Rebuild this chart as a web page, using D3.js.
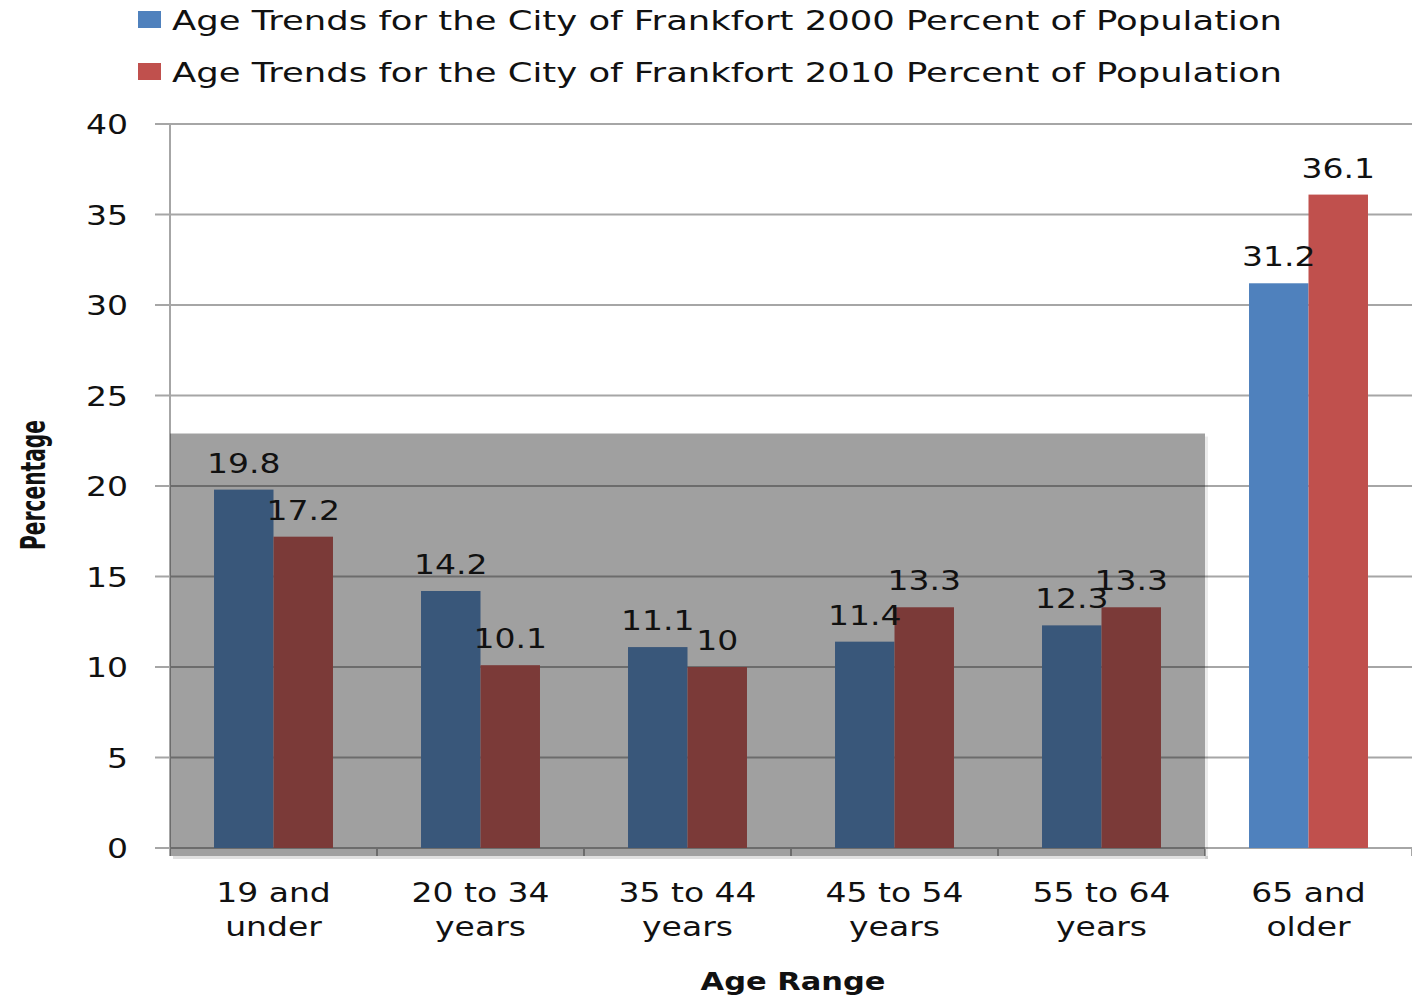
<!DOCTYPE html>
<html>
<head>
<meta charset="utf-8">
<script src="https://cdn.jsdelivr.net/npm/d3@7"></script>
<style>
  body { margin: 0; background: #fff; }
  text { font-family: "DejaVu Sans", Verdana, sans-serif; fill: #111; }
</style>
</head>
<body>
<div id="vis"></div>
<script>
// chart size
const FRAME_WIDTH = 1412;
const FRAME_HEIGHT = 998;
const MARGINS = {left: 170, right: 0, top: 124, bottom: 150};
const STRETCH = 1.27;   // text in the picture is drawn wide

// data
const categories = [["19 and", "under"], ["20 to 34", "years"], ["35 to 44", "years"],
                    ["45 to 54", "years"], ["55 to 64", "years"], ["65 and", "older"]];
const seriesNames = ["Age Trends for the City of Frankfort 2000 Percent of Population",
                     "Age Trends for the City of Frankfort 2010 Percent of Population"];
const values2000 = [19.8, 14.2, 11.1, 11.4, 12.3, 31.2];
const values2010 = [17.2, 10.1, 10, 13.3, 13.3, 36.1];
const yTicks = [0, 5, 10, 15, 20, 25, 30, 35, 40];
const colors = ["#4F81BD", "#C0504D"];
const shadedCount = 5;     // categories under the grey box
const shadedTop = 22.9;    // top of the grey box in data units

const VIS_HEIGHT = FRAME_HEIGHT - MARGINS.top - MARGINS.bottom;
const VIS_WIDTH = FRAME_WIDTH - MARGINS.left - MARGINS.right;

const FRAME = d3.select("#vis")
                .append("svg")
                  .attr("width", FRAME_WIDTH)
                  .attr("height", FRAME_HEIGHT);

// position a text by transform so it can be stretched sideways
function place(x, y) {
  return "translate(" + x + "," + y + ") scale(" + STRETCH + ",1)";
}

const keys = categories.map((d) => d.join(" "));

const X_SCALE = d3.scaleBand()
                  .domain(keys)
                  .range([MARGINS.left, MARGINS.left + VIS_WIDTH]);

const X_INNER = d3.scaleBand()
                  .domain([0, 1])
                  .range([0, X_SCALE.bandwidth()])
                  .paddingOuter(0.74);

const Y_SCALE = d3.scaleLinear()
                  .domain([0, 40])
                  .range([MARGINS.top + VIS_HEIGHT, MARGINS.top]);

// gridlines
FRAME.append("g")
  .selectAll("line")
  .data(yTicks)
  .enter()
  .append("line")
    .attr("x1", MARGINS.left - 15)
    .attr("x2", FRAME_WIDTH)
    .attr("y1", (d) => Y_SCALE(d))
    .attr("y2", (d) => Y_SCALE(d))
    .attr("stroke", "#a6a6a6")
    .attr("stroke-width", 2);

// y axis line
FRAME.append("line")
  .attr("x1", MARGINS.left).attr("x2", MARGINS.left)
  .attr("y1", Y_SCALE(40)).attr("y2", Y_SCALE(0) + 8)
  .attr("stroke", "#a6a6a6")
  .attr("stroke-width", 2);

// x tick marks
FRAME.append("g")
  .selectAll("line")
  .data(keys.concat(["end"]))
  .enter()
  .append("line")
    .attr("x1", (d, i) => MARGINS.left + i * X_SCALE.step())
    .attr("x2", (d, i) => MARGINS.left + i * X_SCALE.step())
    .attr("y1", Y_SCALE(0))
    .attr("y2", Y_SCALE(0) + 8)
    .attr("stroke", "#a6a6a6")
    .attr("stroke-width", 2);

// bars
const rows = [];
keys.forEach((k, i) => {
  rows.push({key: k, s: 0, v: values2000[i]});
  rows.push({key: k, s: 1, v: values2010[i]});
});

FRAME.append("g")
  .selectAll("rect")
  .data(rows)
  .enter()
  .append("rect")
    .attr("x", (d) => X_SCALE(d.key) + X_INNER(d.s))
    .attr("y", (d) => Y_SCALE(d.v))
    .attr("width", X_INNER.bandwidth())
    .attr("height", (d) => Y_SCALE(0) - Y_SCALE(d.v))
    .attr("fill", (d) => colors[d.s]);

// grey box over the first five groups, with a soft shadow strip below
const boxW = X_SCALE.step() * shadedCount;
const boxBottom = Y_SCALE(0) + 8;
FRAME.append("rect")
  .attr("x", MARGINS.left + 3)
  .attr("y", boxBottom)
  .attr("width", boxW)
  .attr("height", 3)
  .attr("fill", "#000")
  .attr("opacity", 0.12);
FRAME.append("rect")
  .attr("x", MARGINS.left + boxW)
  .attr("y", Y_SCALE(shadedTop) + 3)
  .attr("width", 3)
  .attr("height", boxBottom - Y_SCALE(shadedTop))
  .attr("fill", "#000")
  .attr("opacity", 0.08);
FRAME.append("rect")
  .attr("x", MARGINS.left)
  .attr("y", Y_SCALE(shadedTop))
  .attr("width", boxW)
  .attr("height", boxBottom - Y_SCALE(shadedTop))
  .attr("fill", "rgb(29,29,29)")
  .attr("opacity", 0.42);

// value labels
FRAME.append("g")
  .selectAll("text")
  .data(rows)
  .enter()
  .append("text")
    .attr("transform", (d) => place(X_SCALE(d.key) + X_INNER(d.s) + X_INNER.bandwidth() / 2,
                                    Y_SCALE(d.v) - 17))
    .attr("text-anchor", "middle")
    .attr("font-size", "26px")
    .text((d) => d.v);

// y tick labels
FRAME.append("g")
  .selectAll("text")
  .data(yTicks)
  .enter()
  .append("text")
    .attr("transform", (d) => place(128, Y_SCALE(d) + 10))
    .attr("text-anchor", "end")
    .attr("font-size", "26px")
    .text((d) => d);

// x category labels
FRAME.append("g")
  .selectAll("g")
  .data(categories)
  .enter()
  .append("g")
  .each(function(d, i) {
    const cx = X_SCALE(keys[i]) + X_SCALE.bandwidth() / 2;
    d3.select(this).selectAll("text")
      .data(d)
      .enter()
      .append("text")
        .attr("transform", (t, j) => place(cx, 902 + j * 34))
        .attr("text-anchor", "middle")
        .attr("font-size", "26px")
        .text((t) => t);
  });

// axis titles
FRAME.append("text")
  .attr("transform", place(793, 990))
  .attr("text-anchor", "middle")
  .attr("font-size", "24px")
  .attr("font-weight", "bold")
  .text("Age Range");

FRAME.append("text")
  .attr("transform", "translate(45,485) rotate(-90)")
  .attr("text-anchor", "middle")
  .attr("font-size", "34px")
  .attr("font-weight", "bold")
  .style("font-family", "'Liberation Sans Narrow', 'DejaVu Sans Condensed', sans-serif")
  .attr("textLength", 130)
  .attr("lengthAdjust", "spacingAndGlyphs")
  .text("Percentage");

// legend
const legend = FRAME.append("g")
  .selectAll("g")
  .data(seriesNames)
  .enter()
  .append("g")
    .attr("transform", (d, i) => "translate(138," + (20 + i * 52) + ")");
legend.append("rect")
  .attr("x", 0).attr("y", -9)
  .attr("width", 23).attr("height", 17)
  .attr("fill", (d, i) => colors[i]);
legend.append("text")
  .attr("x", 34)
  .attr("y", 10)
  .attr("font-size", "27px")
  .attr("textLength", 1110)
  .attr("lengthAdjust", "spacingAndGlyphs")
  .text((d) => d);
</script>
</body>
</html>
